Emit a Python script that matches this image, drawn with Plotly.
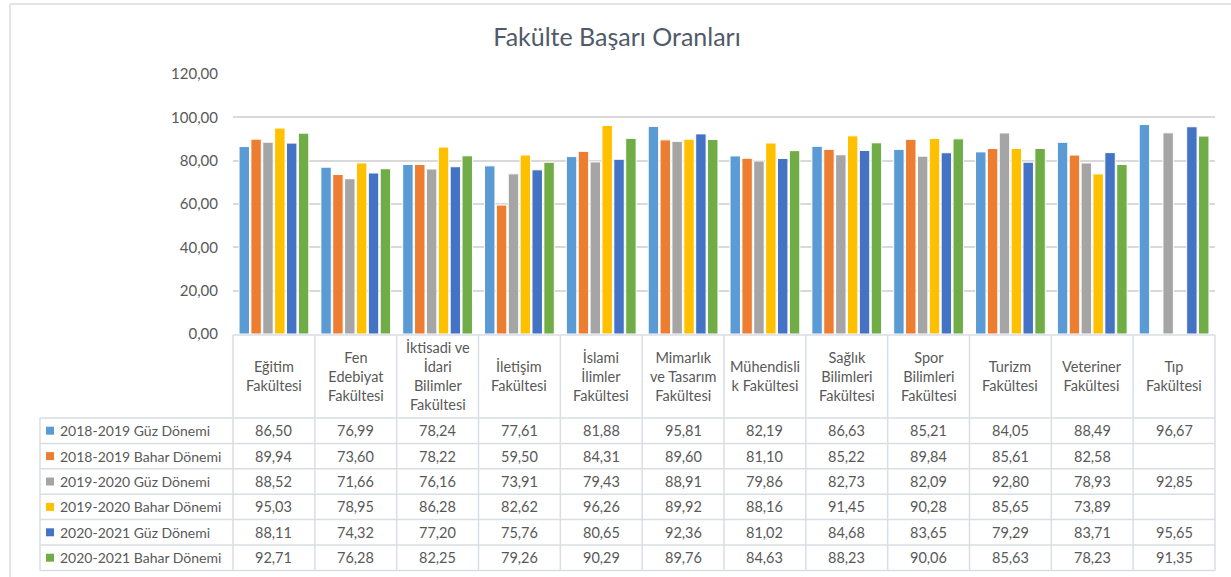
import plotly.graph_objects as go

categories = ["Eğitim<br>Fakültesi", "Fen<br>Edebiyat<br>Fakültesi", "İktisadi ve<br>İdari<br>Bilimler<br>Fakültesi",
              "İletişim<br>Fakültesi", "İslami<br>İlimler<br>Fakültesi", "Mimarlık<br>ve Tasarım<br>Fakültesi",
              "Mühendisli<br>k Fakültesi", "Sağlık<br>Bilimleri<br>Fakültesi", "Spor<br>Bilimleri<br>Fakültesi",
              "Turizm<br>Fakültesi", "Veteriner<br>Fakültesi", "Tıp<br>Fakültesi"]

series_names = ["2018-2019 Güz Dönemi", "2018-2019 Bahar Dönemi", "2019-2020 Güz Dönemi",
                "2019-2020 Bahar Dönemi", "2020-2021 Güz Dönemi", "2020-2021 Bahar Dönemi"]

s_2018_guz = [86.50, 76.99, 78.24, 77.61, 81.88, 95.81, 82.19, 86.63, 85.21, 84.05, 88.49, 96.67]
s_2018_bahar = [89.94, 73.60, 78.22, 59.50, 84.31, 89.60, 81.10, 85.22, 89.84, 85.61, 82.58, None]
s_2019_guz = [88.52, 71.66, 76.16, 73.91, 79.43, 88.91, 79.86, 82.73, 82.09, 92.80, 78.93, 92.85]
s_2019_bahar = [95.03, 78.95, 86.28, 82.62, 96.26, 89.92, 88.16, 91.45, 90.28, 85.65, 73.89, None]
s_2020_guz = [88.11, 74.32, 77.20, 75.76, 80.65, 92.36, 81.02, 84.68, 83.65, 79.29, 83.71, 95.65]
s_2020_bahar = [92.71, 76.28, 82.25, 79.26, 90.29, 89.76, 84.63, 88.23, 90.06, 85.63, 78.23, 91.35]

series_values = [s_2018_guz, s_2018_bahar, s_2019_guz, s_2019_bahar, s_2020_guz, s_2020_bahar]
colors = ["#5B9BD5", "#ED7D31", "#A5A5A5", "#FFC000", "#4472C4", "#70AD47"]

W, H = 1231, 577
FONT = "Lato"
TXT = "#595959"
BORDER = "#D9DEE5"

# layout geometry (pixels)
plot_left, plot_right = 233, 1215
plot_top, plot_bottom = 74, 334
header_bottom = 418
row_h = 25.4
legend_left = 40

def px(x):
    return x / W

def py(y):
    return 1 - y / H

fig = go.Figure()
x_idx = list(range(len(categories)))
for name, vals, col in zip(series_names, series_values, colors):
    fig.add_trace(go.Bar(x=x_idx, y=vals, name=name, marker=dict(color=col, line=dict(color="white", width=1)),
                         showlegend=False, hoverinfo="y+name"))

shapes = []
annotations = []

# outer chart border (left and top edges visible)
shapes.append(dict(type="line", xref="paper", yref="paper", x0=px(10), x1=px(10), y0=0, y1=py(4),
                   line=dict(color="#E1E4E8", width=2), layer="below"))
shapes.append(dict(type="line", xref="paper", yref="paper", x0=px(10), x1=1, y0=py(4), y1=py(4),
                   line=dict(color="#E1E4E8", width=2), layer="below"))

n = len(categories)
col_w = (plot_right - plot_left) / n
col_edges = [plot_left + i * col_w for i in range(n + 1)]

# header vertical lines
for xe in col_edges:
    shapes.append(dict(type="line", xref="paper", yref="paper", x0=px(xe), x1=px(xe), y0=py(plot_bottom + 1),
                       y1=py(header_bottom), line=dict(color=BORDER, width=1.5)))
# top of header line
shapes.append(dict(type="line", xref="paper", yref="paper", x0=px(plot_left), x1=px(plot_right),
                   y0=py(plot_bottom + 1), y1=py(plot_bottom + 1), line=dict(color=BORDER, width=1.5)))

# data rows
rows_top = header_bottom
n_rows = len(series_names)
for r in range(n_rows + 1):
    yy = rows_top + r * row_h
    shapes.append(dict(type="line", xref="paper", yref="paper", x0=px(legend_left), x1=px(plot_right),
                       y0=py(yy), y1=py(yy), line=dict(color=BORDER, width=1.5)))
for xe in [legend_left] + col_edges:
    shapes.append(dict(type="line", xref="paper", yref="paper", x0=px(xe), x1=px(xe), y0=py(rows_top),
                       y1=py(rows_top + n_rows * row_h), line=dict(color=BORDER, width=1.5)))

# header labels
for i, cat in enumerate(categories):
    annotations.append(dict(xref="paper", yref="paper", x=px(col_edges[i] + col_w / 2),
                            y=py((plot_bottom + header_bottom) / 2), text=cat, showarrow=False,
                            xanchor="center", yanchor="middle", align="center",
                            font=dict(family=FONT, size=14.5, color=TXT)))

# row legend + values
for r, (name, vals, col) in enumerate(zip(series_names, series_values, colors)):
    yc = rows_top + r * row_h + row_h / 2
    shapes.append(dict(type="rect", xref="paper", yref="paper", x0=px(46), x1=px(54), y0=py(yc + 4), y1=py(yc - 4),
                       fillcolor=col, line=dict(width=0)))
    annotations.append(dict(xref="paper", yref="paper", x=px(58), y=py(yc), text=name, showarrow=False,
                            xanchor="left", yanchor="middle", font=dict(family=FONT, size=14, color=TXT)))
    for i, v in enumerate(vals):
        if v is None:
            continue
        annotations.append(dict(xref="paper", yref="paper", x=px(col_edges[i] + col_w / 2), y=py(yc),
                                text=f"{v:.2f}".replace(".", ","), showarrow=False,
                                xanchor="center", yanchor="middle", font=dict(family=FONT, size=14.5, color=TXT)))

fig.update_layout(
    width=W, height=H,
    margin=dict(l=0, r=0, t=0, b=0, pad=0, autoexpand=False),
    paper_bgcolor="white", plot_bgcolor="white",
    separators=",.",
    barmode="group", bargap=0.13, bargroupgap=0.12,
    title=dict(text="Fakülte Başarı Oranları", x=px(617), xanchor="center", y=py(37), yanchor="middle",
               yref="container", automargin=False,
               font=dict(family=FONT, size=25, color="#505A68")),
    xaxis=dict(domain=[px(plot_left), px(plot_right)], range=[-0.5, n - 0.5], showticklabels=False,
               showgrid=False, zeroline=False, showline=False, ticks="", automargin=False),
    yaxis=dict(domain=[py(plot_bottom), py(plot_top)], range=[0, 120], dtick=20, tickformat=".2f",
               showgrid=True, gridcolor="#D9D9D9", gridwidth=1.5, zeroline=False, showline=False,
               automargin=False,
               tickfont=dict(family=FONT, size=15, color=TXT), ticklabelstandoff=14),
    shapes=shapes, annotations=annotations,
    font=dict(family=FONT),
)

fig.write_html("out.html", config={"displayModeBar": False},
               post_script="document.body.style.margin='0px';")
